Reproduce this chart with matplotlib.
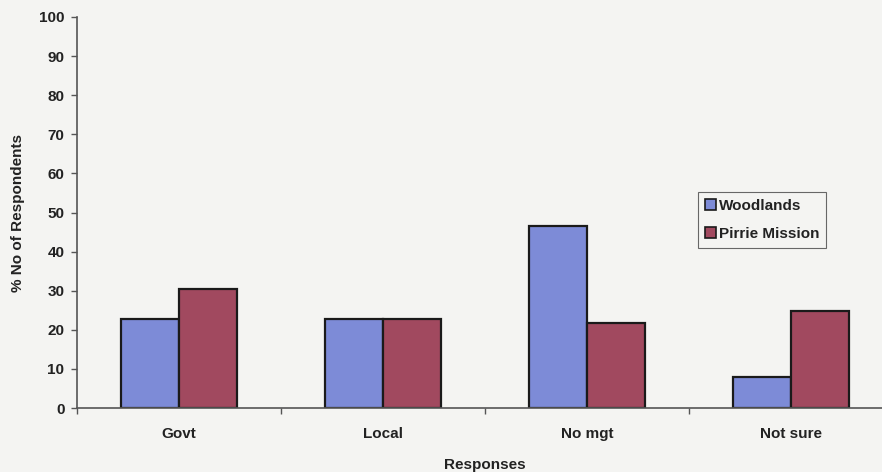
import numpy as np
import matplotlib
matplotlib.use("Agg")
import matplotlib.pyplot as plt

categories = ["Govt", "Local", "No mgt", "Not sure"]
woodlands = [22.8, 22.8, 46.6, 7.9]
pirrie = [30.4, 22.8, 21.7, 24.8]
yticks = [0, 10, 20, 30, 40, 50, 60, 70, 80, 90, 100]

plt.rcParams['font.family'] = ['Liberation Sans', 'DejaVu Sans']
plt.rcParams['font.weight'] = 'bold'
fs = 11
txt = "#222222"

fig = plt.figure(figsize=(8.82, 4.72), dpi=100, facecolor="#f4f4f2")
ax = fig.add_axes([77/882, 64/472, 816/882, 391/472])
ax.set_facecolor("none")

x = np.arange(len(categories))
w = 0.283
ax.bar(x - w/2, woodlands, w, color="#7d8bd7", edgecolor="#1a1a1a", linewidth=1.6, label="Woodlands")
ax.bar(x + w/2, pirrie, w, color="#a1495f", edgecolor="#1a1a1a", linewidth=1.6, label="Pirrie Mission")

ax.set_xlim(-0.5, len(categories) - 0.5)
ax.set_ylim(0, 100)
ax.set_yticks(yticks)
ax.set_yticklabels([str(t) for t in yticks], fontsize=fs, fontweight='bold', color=txt)

# boundaries get the tick marks, centres get the labels
ax.set_xticks(np.arange(len(categories) + 1) - 0.5)
ax.set_xticklabels([])
ax.set_xticks(x, minor=True)
ax.set_xticklabels(categories, minor=True, fontsize=fs, fontweight='bold', color=txt)
ax.tick_params(axis='x', which='minor', length=0, pad=14)
ax.tick_params(axis='x', which='major', length=4, width=1, color="#555555", direction='out')
ax.tick_params(axis='y', length=4, width=1, color="#555555", pad=5)

for s in ["top", "right"]:
    ax.spines[s].set_visible(False)
for s in ["left", "bottom"]:
    ax.spines[s].set_color("#555555")
    ax.spines[s].set_linewidth(1.2)

ax.set_xlabel("Responses", fontsize=fs, fontweight='bold', color=txt, labelpad=12)
ax.set_ylabel("% No of Respondents", fontsize=fs, fontweight='bold', color=txt, labelpad=10)

leg = ax.legend(loc="upper left", bbox_to_anchor=(621/816, (408-192)/391), fontsize=fs,
                frameon=True, fancybox=False, edgecolor="#444444", facecolor="none",
                handlelength=0.7, handleheight=0.7, handletextpad=0.2, borderpad=0.45,
                borderaxespad=0, labelspacing=0.93)
leg.get_frame().set_linewidth(0.8)
for h in leg.legend_handles:
    h.set_linewidth(1.2)
for t in leg.get_texts():
    t.set_fontweight('bold')
    t.set_color(txt)

fig.savefig("out.png", dpi=100, facecolor=fig.get_facecolor())
